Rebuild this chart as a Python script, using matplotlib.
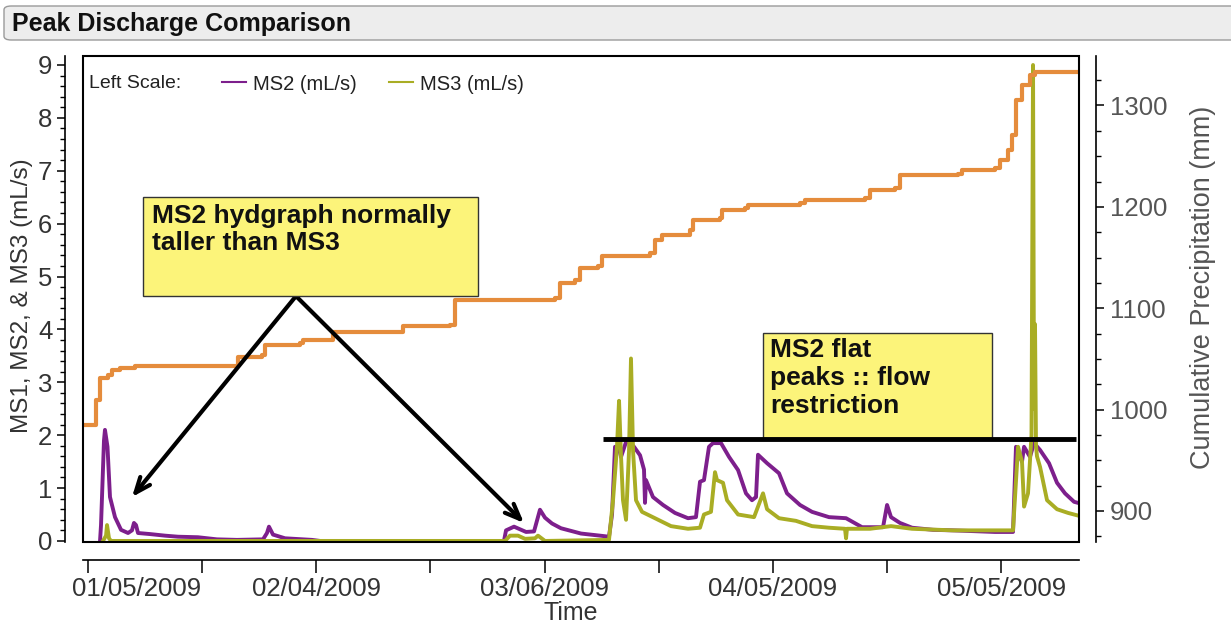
import matplotlib
matplotlib.use('Agg')
import matplotlib.pyplot as plt
import matplotlib.dates as mdates
from matplotlib.patches import Rectangle, FancyBboxPatch
from matplotlib.lines import Line2D
from matplotlib.ticker import MultipleLocator, FixedLocator
from matplotlib.transforms import ScaledTranslation
import numpy as np
import pandas as pd

plt.rcParams['font.family'] = ['Liberation Sans', 'DejaVu Sans']

# ---------------- data (time as day-of-year 2009, 1.0 = Jan 1 00:00) -------------
ms2_doy = [6.58, 6.71, 6.84, 7.10, 7.23, 7.56, 7.89, 8.55, 9.34, 10.26, 10.78, 11.04,
           11.31, 11.57, 13.15, 15.12, 16.83, 19.45, 21.95, 24.58, 28.0, 28.52, 28.78,
           29.31, 30.89, 34.43, 35.49, 59.66, 59.93, 60.98, 61.77, 62.56, 63.61, 64.39,
           65.05, 65.97, 67.15, 69.78, 72.28, 73.46, 73.86, 74.25, 74.78, 75.04, 75.70,
           76.22, 76.75, 77.54, 78.06, 78.19, 78.32, 79.24, 80.56, 82.13, 83.84, 84.89,
           85.42, 85.94, 86.60, 87.13, 88.18, 89.23, 90.42, 91.46, 92.25, 92.78, 93.04,
           94.23, 95.80, 96.85, 98.56, 100.14, 102.37, 104.61, 106.71, 109.47, 110.0,
           110.52, 111.70, 113.28, 116.04, 118.67, 124.19, 126.55, 126.94, 127.73, 128.0,
           128.78, 129.31, 130.10, 131.28, 132.33, 133.38, 134.57, 135.09]
ms2_flow = [0.0, 0.3, 0.83, 1.9, 2.1, 1.78, 0.83, 0.45, 0.21, 0.15, 0.2, 0.34,
            0.3, 0.15, 0.13, 0.1, 0.08, 0.07, 0.03, 0.02, 0.03, 0.15, 0.27,
            0.12, 0.05, 0.02, 0.0, 0.0, 0.2, 0.27, 0.22, 0.17, 0.18, 0.59,
            0.44, 0.33, 0.24, 0.14, 0.1, 0.08, 0.5, 1.78, 1.75, 1.59, 1.87,
            1.86, 1.78, 1.62, 1.35, 0.72, 1.15, 0.83, 0.68, 0.53, 0.43, 0.45,
            1.12, 1.15, 1.78, 1.85, 1.85, 1.59, 1.34, 0.9, 0.77, 0.83, 1.63,
            1.47, 1.28, 0.9, 0.68, 0.55, 0.45, 0.43, 0.26, 0.26, 0.68,
            0.45, 0.34, 0.25, 0.21, 0.2, 0.17, 0.17, 1.78, 1.5, 1.78,
            1.59, 1.85, 1.72, 1.47, 1.1, 0.9, 0.74, 0.72]

ms3_doy = [6.97, 7.37, 7.50, 7.76, 8.02, 59.80, 60.45, 61.50, 62.43, 63.74, 64.13, 65.05,
           73.46, 73.99, 74.51, 74.78, 75.04, 75.30, 75.70, 76.09, 76.35, 76.62, 77.01,
           77.80, 79.50, 81.61, 83.84, 85.42, 85.94, 86.86, 87.39, 87.65, 88.44, 88.97,
           90.42, 92.52, 93.70, 94.23, 95.80, 98.03, 100.14, 102.37, 104.47, 104.61,
           104.73, 107.76, 110.52, 113.28, 118.67, 126.55, 127.21, 127.73, 128.0, 128.52,
           128.98, 129.18, 129.31, 129.44, 129.57, 129.70, 130.10, 131.02, 132.33,
           133.78, 135.09]
ms3_flow = [0.0, 0.1, 0.3, 0.05, 0.0, 0.0, 0.1, 0.1, 0.04, 0.05, 0.1, 0.0,
            0.02, 0.77, 1.78, 2.65, 1.6, 0.77, 0.4, 1.7, 3.45, 1.7, 0.77,
            0.55, 0.43, 0.28, 0.23, 0.25, 0.5, 0.55, 1.3, 1.15, 1.1, 0.77,
            0.5, 0.45, 0.9, 0.6, 0.43, 0.38, 0.28, 0.25, 0.23, 0.05,
            0.23, 0.23, 0.28, 0.23, 0.2, 0.2, 1.78, 1.5, 0.65, 0.9,
            2.0, 9.0, 2.5, 4.1, 1.8, 1.6, 1.4, 0.77, 0.6,
            0.53, 0.48]

precip_doy = [4.34, 5.79, 6.05, 6.31, 6.58, 7.63, 8.15, 9.20, 11.18, 24.32, 24.71,
              27.86, 28.26, 32.86, 33.25, 36.80, 37.19, 46.0, 46.39, 52.57, 53.23,
              66.37, 67.02, 69.0, 69.65, 72.02, 72.54, 78.85, 79.51, 80.43, 84.11,
              84.50, 88.05, 88.31, 91.33, 91.73, 98.56, 99.22, 107.10, 107.76,
              111.05, 111.70, 119.32, 119.85, 124.19, 124.84, 125.89, 126.42,
              126.94, 127.73, 128.78, 129.44, 135.09]
precip_mm = [985, 985, 1009, 1009, 1031, 1034, 1039, 1041, 1043, 1043, 1052,
             1054, 1064, 1066, 1069, 1069, 1077, 1077, 1082, 1083, 1108,
             1110, 1125, 1128, 1140, 1142, 1152, 1154, 1167, 1172, 1177,
             1187, 1189, 1197, 1199, 1202, 1204, 1207, 1209, 1217,
             1219, 1231, 1232, 1236, 1238, 1246, 1256, 1271,
             1305, 1320, 1330, 1333, 1333]

tick_dates = ['2009-01-05', '2009-01-20', '2009-02-04', '2009-02-19', '2009-03-06',
              '2009-03-21', '2009-04-05', '2009-04-20', '2009-05-05']
tick_labels = ['01/05/2009', '', '02/04/2009', '', '03/06/2009', '', '04/05/2009', '',
               '05/05/2009']
left_ticks = [0, 1, 2, 3, 4, 5, 6, 7, 8, 9]
right_ticks = [900, 1000, 1100, 1200, 1300]

YEAR0 = pd.Timestamp('2009-01-01')


def num(doy):
    """day-of-year -> matplotlib date number"""
    ts = YEAR0 + pd.to_timedelta(np.atleast_1d(np.asarray(doy, dtype=float)) - 1.0, unit='D')
    out = mdates.date2num(ts.to_pydatetime())
    return out if np.ndim(doy) else float(out[0])


C_MS2 = '#7d1f8c'
C_MS3 = '#a9ad24'
C_PRE = '#e58c3c'
TXT = '#333333'

W, H = 1231, 632
fig = plt.figure(figsize=(W / 100, H / 100), dpi=100)
fig.patch.set_facecolor('white')

# title bar
bar = FancyBboxPatch((4 / W, 1 - 40 / H), (W + 20) / W, 34 / H,
                     boxstyle='round,pad=0,rounding_size=0.006',
                     transform=fig.transFigure, fc='#ededed', ec='#9a9a9a', lw=1.0)
fig.patches.append(bar)
fig.text(12 / W, 1 - 24 / H, 'Peak Discharge Comparison', fontsize=18,
         fontweight='bold', color='#111111', va='center', ha='left')

ax = fig.add_axes([83 / W, 1 - 542 / H, (1079 - 83) / W, (542 - 56) / H])
ax2 = ax.twinx()

ax.plot(num(ms2_doy), ms2_flow, color=C_MS2, lw=2.8, zorder=3)
ax.plot(num(ms3_doy), ms3_flow, color=C_MS3, lw=2.8, zorder=4)
ax2.plot(num(precip_doy), precip_mm, color=C_PRE, lw=3.0, drawstyle='steps-post',
         zorder=2)

ax.set_xlim(num(4.343), num(135.22))
ax.set_ylim(-0.02, 9.17)
ax2.set_ylim(869.4, 1348.8)

# spines
for s in ['top', 'right']:
    ax.spines[s].set_visible(False)
for s in ['top', 'left', 'bottom']:
    ax2.spines[s].set_visible(False)
ax.spines['left'].set_position(('outward', 13))
ax.spines['bottom'].set_position(('outward', 13))
ax2.spines['right'].set_position(('outward', 12))
for sp in [ax.spines['left'], ax.spines['bottom'], ax2.spines['right']]:
    sp.set_linewidth(1.2)

# frame box around plot area
ax2.add_patch(Rectangle((0, 0), 1, 1, transform=ax.transAxes, fill=False, ec='black',
                        lw=1.5, clip_on=False, zorder=10))

# ticks
tick_nums = [mdates.date2num(pd.Timestamp(t).to_pydatetime()) for t in tick_dates]
ax.xaxis.set_major_locator(FixedLocator(tick_nums))
ax.set_xticklabels(tick_labels)
ax.tick_params(axis='x', direction='out', length=9, width=1.1, labelsize=18.5,
               labelcolor=TXT, pad=3)
ax.set_yticks(left_ticks)
ax.yaxis.set_minor_locator(MultipleLocator(0.2))
ax.tick_params(axis='y', which='major', direction='out', length=6, width=1.1,
               labelsize=18.5, labelcolor=TXT, pad=3)
ax.tick_params(axis='y', which='minor', direction='out', length=3.5, width=1.0)
ax2.set_yticks(right_ticks)
ax2.yaxis.set_minor_locator(MultipleLocator(25))
ax2.tick_params(axis='y', which='major', direction='out', length=6, width=1.1,
                labelsize=18.5, labelcolor='#555555', pad=4)
ax2.tick_params(axis='y', which='minor', direction='out', length=3.5, width=1.0)

# shift first date label right (kept inside axis like the original)
first = ax.xaxis.get_major_ticks()[0]
first.label1.set_transform(first.label1.get_transform() +
                           ScaledTranslation(0.49, 0, fig.dpi_scale_trans))

ax.set_ylabel('MS1, MS2, & MS3 (mL/s)', fontsize=17.5, color=TXT)
ax.yaxis.set_label_coords((33 - 83) / 996, (542 - 296) / 486)
ax2.set_ylabel('Cumulative Precipitation (mm)', fontsize=19.5, color='#555555')
ax2.yaxis.set_label_coords((1190 - 83) / 996, (542 - 287) / 486)
ax.set_xlabel('Time', fontsize=18, color=TXT)
ax.xaxis.set_label_coords((571 - 83) / 996, (542 - 601) / 486)

# legend
ax2.text((89 - 83) / 996, (542 - 84) / 486, 'Left Scale:', transform=ax.transAxes,
         fontsize=14, color='#222222', va='center', ha='left', zorder=12)
handles = [Line2D([], [], color=C_MS2, lw=1.5), Line2D([], [], color=C_MS3, lw=1.5)]
ax2.legend(handles, ['MS2 (mL/s)', 'MS3 (mL/s)'], loc='center left',
           bbox_to_anchor=((222 - 83) / 996, (542 - 84) / 486), ncol=2, frameon=False,
           fontsize=14.5, handlelength=1.2, handletextpad=0.35, columnspacing=1.6,
           borderpad=0, borderaxespad=0, labelcolor='#222222')

# annotations (data coordinates: day-of-year, mL/s)
apex = (32.33, 4.63)
for tip in [(10.78, 0.83), (62.29, 0.34)]:
    ax2.annotate('', xy=(num(tip[0]), tip[1]), xycoords=ax.transData,
                 xytext=(num(apex[0]), apex[1]), textcoords=ax.transData,
                 arrowprops=dict(arrowstyle='->,head_length=1.1,head_width=0.45',
                                 lw=3, color='black', shrinkA=0, shrinkB=0),
                 zorder=11)

box1 = (12.23, 56.25, 4.63, 6.5)
box2 = (93.70, 123.79, 1.95, 3.93)
for (d0, d1, v0, v1) in [box1, box2]:
    x0, x1 = num(d0), num(d1)
    ax2.add_patch(Rectangle((x0, v0), x1 - x0, v1 - v0, transform=ax.transData,
                            fc='#fcf47a', ec='#333333', lw=1.0, zorder=12))
ax2.text(num(13.41), 6.38, 'MS2 hydgraph normally\ntaller than MS3',
         transform=ax.transData, fontsize=19, fontweight='bold', color='#111111',
         va='top', ha='left', linespacing=1.2, zorder=13)
ax2.text(num(94.62), 3.83, 'MS2 flat\npeaks :: flow\nrestriction',
         transform=ax.transData, fontsize=19, fontweight='bold', color='#111111',
         va='top', ha='left', linespacing=1.2, zorder=13)

ax2.plot(num([72.67, 134.83]), [1.93, 1.93], transform=ax.transData, color='black',
         lw=3.5, solid_capstyle='butt', zorder=14)

fig.savefig('out.png', dpi=100, facecolor='white')
